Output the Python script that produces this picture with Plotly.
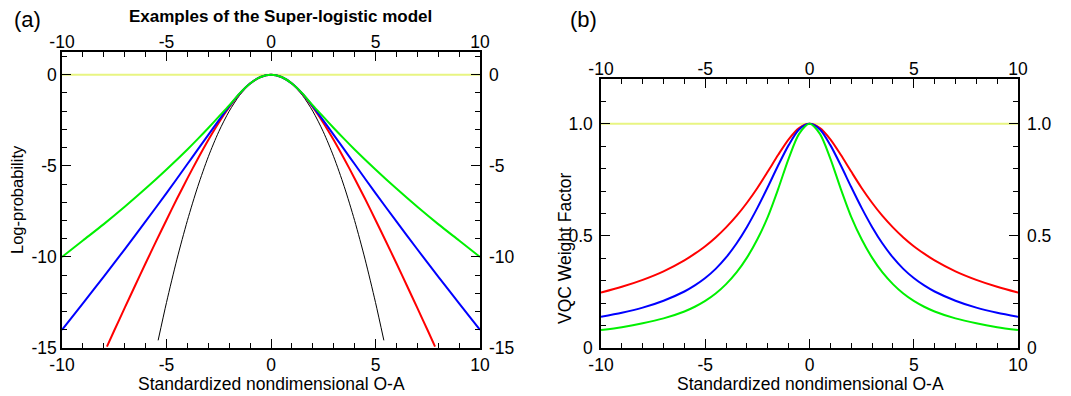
import plotly.graph_objects as go

W, H = 1071, 396
OFF = 8  # page body margin of the rendered html

# ---------------- data ----------------
# Panel (a): log-probability
xa_wide = [-10, -9, -8, -7, -6, -5, -4, -3.5, -3, -2.5, -2, -1.5, -1, -0.5, 0,
           0.5, 1, 1.5, 2, 2.5, 3, 3.5, 4, 5, 6, 7, 8, 9, 10]
green_a = [-10, -9.1, -8.2, -7.25, -6.25, -5.2, -4.1, -3.52, -2.92, -2.3, -1.68, -1.02, -0.478, -0.124, 0,
           -0.124, -0.478, -1.02, -1.68, -2.3, -2.92, -3.52, -4.1, -5.2, -6.25, -7.25, -8.2, -9.1, -10]
blue_a = [-14, -12.55, -11.08, -9.58, -8.05, -6.5, -4.9, -4.1, -3.3, -2.5, -1.73, -1.035, -0.48, -0.124, 0,
          -0.124, -0.48, -1.035, -1.73, -2.5, -3.3, -4.1, -4.9, -6.5, -8.05, -9.58, -11.08, -12.55, -14]
xa_red = [-7.85, -7.5, -7, -6.5, -6, -5.5, -5, -4.5, -4, -3.5, -3, -2.5, -2, -1.5, -1, -0.5, 0,
          0.5, 1, 1.5, 2, 2.5, 3, 3.5, 4, 4.5, 5, 5.5, 6, 6.5, 7, 7.5, 7.85]
red_a = [-14.92, -14.04, -12.8, -11.57, -10.35, -9.15, -7.97, -6.81, -5.69, -4.61, -3.58, -2.63, -1.78, -1.05, -0.483, -0.124, 0,
         -0.124, -0.483, -1.05, -1.78, -2.63, -3.58, -4.61, -5.69, -6.81, -7.97, -9.15, -10.35, -11.57, -12.8, -14.04, -14.92]
xa_black = [-5.4, -5, -4.5, -4, -3.5, -3, -2.5, -2, -1.5, -1, -0.5, 0,
            0.5, 1, 1.5, 2, 2.5, 3, 3.5, 4, 4.5, 5, 5.4]
black_a = [-14.58, -12.5, -10.125, -8, -6.125, -4.5, -3.125, -2, -1.125, -0.5, -0.125, 0,
           -0.125, -0.5, -1.125, -2, -3.125, -4.5, -6.125, -8, -10.125, -12.5, -14.58]
x_flat = [-10, 10]
yellow_a = [0, 0]

# Panel (b): VQC weight factor
xb = [-10, -9, -8, -7, -6, -5.5, -5, -4.5, -4, -3.5, -3, -2.5, -2, -1.5, -1, -0.5, 0,
      0.5, 1, 1.5, 2, 2.5, 3, 3.5, 4, 4.5, 5, 5.5, 6, 7, 8, 9, 10]
red_b = [0.247, 0.273, 0.304, 0.342, 0.391, 0.421, 0.454, 0.493, 0.538, 0.589, 0.648, 0.714, 0.787, 0.862, 0.931, 0.981, 1.0,
         0.981, 0.931, 0.862, 0.787, 0.714, 0.648, 0.589, 0.538, 0.493, 0.454, 0.421, 0.391, 0.342, 0.304, 0.273, 0.247]
blue_b = [0.139, 0.157, 0.180, 0.211, 0.252, 0.279, 0.312, 0.353, 0.404, 0.466, 0.54, 0.625, 0.718, 0.815, 0.905, 0.975, 1.0,
          0.975, 0.905, 0.815, 0.718, 0.625, 0.54, 0.466, 0.404, 0.353, 0.312, 0.279, 0.252, 0.211, 0.180, 0.157, 0.139]
green_b = [0.080, 0.093, 0.110, 0.132, 0.163, 0.184, 0.21, 0.243, 0.285, 0.337, 0.403, 0.485, 0.585, 0.71, 0.845, 0.955, 1.0,
           0.955, 0.845, 0.71, 0.585, 0.485, 0.403, 0.337, 0.285, 0.243, 0.21, 0.184, 0.163, 0.132, 0.110, 0.093, 0.080]
yellow_b = [1.0, 1.0]

xtick_vals = [-10, -5, 0, 5, 10]
xtick_text = ["-10", "-5", "0", "5", "10"]
ya_tick_vals = [-15, -10, -5, 0]
ya_tick_text = ["-15", "-10", "-5", "0"]
yb_tick_vals = [0, 0.5, 1.0]
yb_tick_text = ["0", "0.5", "1.0"]

# ---------------- styling ----------------
FONT = "Liberation Sans, Arial, sans-serif"
TICKF = dict(family=FONT, size=17.5, color="black")
YELLOW = "#e8f582"
GREEN = "#00f000"


def px_x(p):
    return (p - OFF) / W


def px_y(p):
    return 1 - (p - OFF) / H


dom_xa = [px_x(62), px_x(480)]
dom_xb = [px_x(601), px_x(1018)]
dom_ya = [px_y(348), px_y(52)]
dom_yb = [px_y(348), px_y(79)]

fig = go.Figure()


def line(x, y, color, width, xa, ya):
    fig.add_trace(go.Scatter(x=x, y=y, mode="lines", xaxis=xa, yaxis=ya,
                             line=dict(color=color, width=width, shape="spline", smoothing=0.8),
                             showlegend=False, hoverinfo="skip"))


# panel a
line(x_flat, yellow_a, YELLOW, 2, "x", "y")
line(xa_black, black_a, "black", 1, "x", "y")
line(xa_red, red_a, "#ff0000", 2, "x", "y")
line(xa_wide, blue_a, "#0000ff", 2, "x", "y")
line(xa_wide, green_a, GREEN, 2, "x", "y")
# panel b
line(x_flat, yellow_b, YELLOW, 2, "x2", "y2")
line(xb, red_b, "#ff0000", 2, "x2", "y2")
line(xb, blue_b, "#0000ff", 2, "x2", "y2")
line(xb, green_b, GREEN, 2, "x2", "y2")
# dummies for label-only overlay axes
for xa, ya in [("x3", "y3"), ("x4", "y4")]:
    fig.add_trace(go.Scatter(x=[None], y=[None], xaxis=xa, yaxis=ya, showlegend=False))


def main_axis(rng, dom, anchor, tv, tt, dtick_minor, **kw):
    return dict(range=rng, domain=dom, anchor=anchor, showgrid=False, zeroline=False,
                showline=True, linecolor="black", linewidth=1.5, mirror="ticks",
                ticks="inside", ticklen=9, tickwidth=1.3, tickcolor="black",
                tickvals=tv, ticktext=tt, tickfont=TICKF, automargin=False,
                minor=dict(ticks="inside", ticklen=5, tickwidth=1.1, tickcolor="black",
                           dtick=dtick_minor, showgrid=False),
                **kw)


def label_axis(rng, overlay, anchor, side, tv, tt, **kw):
    return dict(range=rng, overlaying=overlay, anchor=anchor, side=side, showgrid=False,
                zeroline=False, showline=False, ticks="", tickvals=tv, ticktext=tt,
                tickfont=TICKF, automargin=False, **kw)


fig.update_layout(
    width=W, height=H, margin=dict(l=0, r=0, t=0, b=0),
    paper_bgcolor="white", plot_bgcolor="white", showlegend=False,
    xaxis=main_axis([-10, 10], dom_xa, "y", xtick_vals, xtick_text, 1),
    yaxis=main_axis([-15, 1.25], dom_ya, "x", ya_tick_vals, ya_tick_text, 1),
    xaxis2=main_axis([-10, 10], dom_xb, "y2", xtick_vals, xtick_text, 1),
    yaxis2=main_axis([0, 1.2], dom_yb, "x2", yb_tick_vals, yb_tick_text, 0.1,
                     ticklabelstandoff=3),
    xaxis3=label_axis([-10, 10], "x", "y", "top", xtick_vals, xtick_text),
    yaxis3=label_axis([-15, 1.25], "y", "x", "right", ya_tick_vals, ya_tick_text, ticklabelstandoff=8),
    xaxis4=label_axis([-10, 10], "x2", "y2", "top", xtick_vals, xtick_text),
    yaxis4=label_axis([0, 1.2], "y2", "x2", "right", yb_tick_vals, yb_tick_text, ticklabelstandoff=8),
)


def ann(text, x, y, size, angle=0, bold=False):
    fig.add_annotation(text=f"<b>{text}</b>" if bold else text, x=px_x(x), y=px_y(y),
                       xref="paper", yref="paper", showarrow=False, textangle=angle,
                       xanchor="center", yanchor="middle", borderpad=0,
                       font=dict(family=FONT, size=size, color="black"))


ann("(a)", 27, 19, 22)
ann("(b)", 583, 20, 22)
ann("Examples of the Super-logistic model", 280, 17, 17, bold=True)
ann("Standardized nondimensional O-A", 271, 384, 17.5)
ann("Standardized nondimensional O-A", 810, 384, 17.5)
ann("Log-probability", 17, 200, 16.5, angle=-90)
ann("VQC Weight Factor", 565, 248, 17.5, angle=-90)

fig.write_html("out.html")
